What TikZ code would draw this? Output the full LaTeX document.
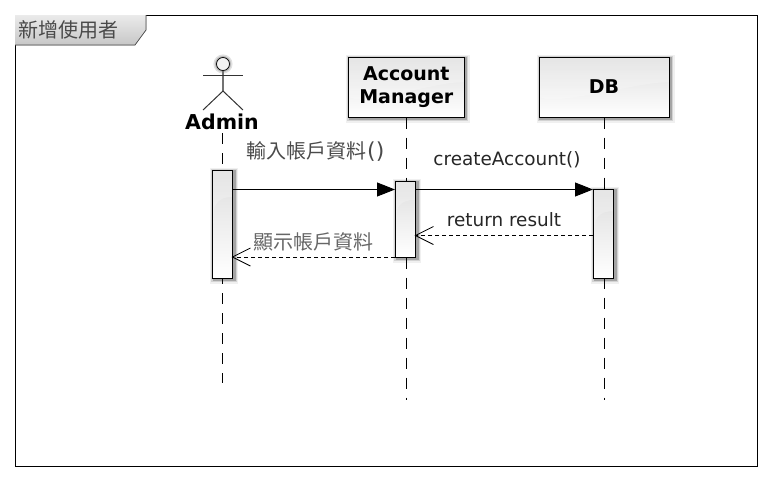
\documentclass[tikz,border=0pt]{standalone}
\usepackage{fontspec}
\setmainfont{DejaVu Sans}
\newfontfamily\cjk{Noto Sans CJK TC}[Scale=1]
\usetikzlibrary{arrows.meta,calc}
\definecolor{cjkgray}{HTML}{4A4A4A}
\tikzset{
  softshadow/.style={
    preaction={draw=black,draw opacity=.06,line width=8pt,transform canvas={shift={(1.5pt,-1.5pt)}}},
    preaction={draw=black,draw opacity=.12,line width=5.5pt,transform canvas={shift={(1.5pt,-1.5pt)}}},
    preaction={draw=black,draw opacity=.22,line width=3pt,transform canvas={shift={(1.5pt,-1.5pt)}}}},
  gloss/.style={path picture={
    \fill[white,fill opacity=.22]
      (path picture bounding box.north west) --
      (path picture bounding box.north east) --
      ($(path picture bounding box.north east)!#1!(path picture bounding box.south east)$)
      .. controls ($(path picture bounding box.north east)!#1!(path picture bounding box.south east)+(-30pt,1pt)$)
      and ($(path picture bounding box.north west)!#1+.22!(path picture bounding box.south west)+(6pt,-14pt)$) ..
      ($(path picture bounding box.north west)!#1+.22!(path picture bounding box.south west)$) -- cycle;}},
  partbox/.style={draw=black,line width=1pt,inner sep=0pt,align=center,
    top color=black!13,bottom color=white,softshadow,gloss=.42,
    font=\fontsize{19}{23}\selectfont\bfseries,text=black},
  bar/.style={draw=black,line width=1pt,inner sep=0pt,minimum width=20pt,
    top color=black!13,bottom color=white,softshadow,gloss=.25},
  lifeline/.style={draw=black,line width=1pt,dash pattern=on 11pt off 9pt},
  syncmsg/.style={draw=black,line width=1pt,-{Triangle[length=18pt,width=14pt]}},
  replymsg/.style={draw=black,line width=1pt,dash pattern=on 4pt off 3pt,shorten >=-1.5pt,-{Straight Barb[length=18pt,width=18pt,line width=.8pt]}},
  latinlabel/.style={inner sep=0pt,font=\fontsize{18.4}{20}\selectfont,text=black!85},
  cjklabel/.style={inner sep=0pt,font=\cjk\fontsize{20}{22}\selectfont,text=cjkgray},
  stick/.style={draw=black!80,line width=1pt},
}
\begin{document}
\begin{tikzpicture}[x=1pt,y=-1pt]
\useasboundingbox (0,0) rectangle (772,482);
% frame
\node[draw=black,line width=1pt,minimum width=742pt,minimum height=451pt,inner sep=0pt] (frame) at (386,240.5) {};
\fill[top color=black!8,bottom color=black!22] (15,15) -- (146,15) -- (146,30) -- (135,45) -- (15,45) -- cycle;
\draw[black!70,line width=.7pt] (15,45) -- (135,45) -- (146,30) -- (146,15);
\node[cjklabel,anchor=west] (title) at (18,30) {新增使用者};
% actor
\node[circle,draw=black,line width=.7pt,fill=black!5,minimum size=13pt,inner sep=0pt,
      preaction={draw=black,draw opacity=.12,line width=6pt},
      preaction={draw=black,draw opacity=.18,line width=3pt}] (head) at (223,64) {};
\coordinate (hip) at (223,91);
\coordinate (armL) at (203,75);
\coordinate (armR) at (243,75);
\coordinate (footL) at (203,110);
\coordinate (footR) at (243,110);
\draw[stick,draw=black!55,line width=1.6pt] (head) -- (hip);
\draw[stick] (armL) -- (armR);
\draw[stick] (footL) -- (hip) -- (footR);
\node[inner sep=0pt,font=\fontsize{20.5}{24}\selectfont\bfseries,text=black] (admin) at (222,122) {Admin};
% participants
\node[partbox,minimum width=115.5pt,minimum height=60pt] (am) at (406.3,87) {Account\\Manager};
\node[partbox,minimum width=130pt,minimum height=60pt] (db) at (604,87) {DB};
% lifeline ends
\coordinate (endAdmin) at (222.5,383);
\coordinate (endAm) at (406.3,400);
\coordinate (endDb) at (604,400);
\draw[lifeline] ($(admin.south)+(.5,3)$) -- (endAdmin);
\draw[lifeline] (am.south) -- (endAm);
\draw[lifeline] (db.south) -- (endDb);
% activation bars
\node[bar,minimum height=108pt] (barAdmin) at (222.5,224) {};
\node[bar,minimum height=76pt] (barAm) at (405.5,219) {};
\node[bar,minimum height=89pt] (barDb) at (603.5,233.5) {};
% messages
\draw[syncmsg] (barAdmin.east |- 0,189.5) -- (barAm.west |- 0,189.5);
\draw[syncmsg] (barAm.east |- 0,189.5) -- (barDb.west |- 0,189.5);
\draw[replymsg] (barDb.west |- 0,235.5) -- (barAm.east |- 0,235.5);
\draw[replymsg] (barAm.west |- 0,257) -- (barAdmin.east |- 0,257);
% labels
\node[cjklabel,anchor=west] (m1) at (246,151.5) {輸入帳戶資料{\fontsize{22}{22}\rmfamily\selectfont\hspace{1pt}()}};
\node[latinlabel] (m2) at (507,160) {createAccount()};
\node[latinlabel] (m3) at (504,219.5) {return result};
\node[cjklabel,anchor=west,text=black!60] (m4) at (253,241.5) {顯示帳戶資料};
\end{tikzpicture}
\end{document}
